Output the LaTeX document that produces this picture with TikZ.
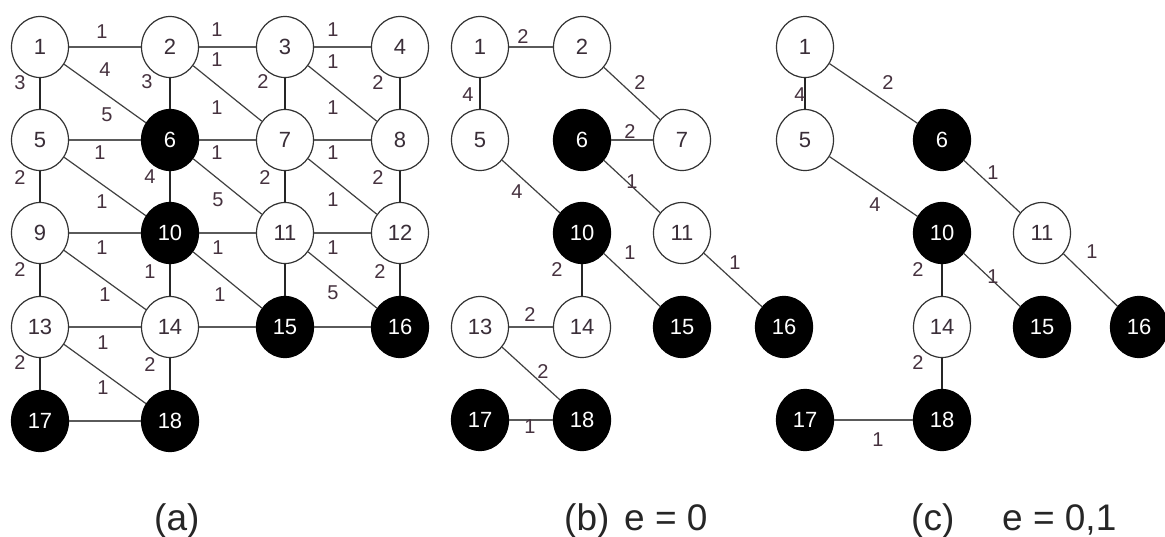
\documentclass[tikz,border=0pt]{standalone}
\usepackage{fontspec}
\setmainfont{Liberation Sans}
\usetikzlibrary{shapes.geometric}
\definecolor{edgegray}{HTML}{5A5A5A}
\definecolor{labc}{HTML}{46323F}
\definecolor{numc}{HTML}{3A2E38}
\begin{document}
\begin{tikzpicture}[x=1pt,y=-1pt,
  vtx/.style={ellipse, draw=black!80, line width=1.2pt, minimum width=57pt, minimum height=61pt, inner sep=0pt, fill=white, text=numc, font=\fontsize{22}{22}\selectfont},
  blk/.style={vtx, fill=black, draw=black, text=white},
  hedge/.style={draw=edgegray, line width=2.3pt},
  vedge/.style={draw=black!85, line width=1.5pt},
  dedge/.style={draw=black!75, line width=1.2pt},
  lab/.style={font=\fontsize{20}{20}\selectfont, text=labc, inner sep=0pt},
  captxt/.style={font=\fontsize{37}{37}\selectfont, text=black!85, inner sep=0pt, anchor=base west}]
\useasboundingbox (0,0) rectangle (1165,536);
\fill[white] (0,0) rectangle (1165,536);

% ---------------- panel (a) ----------------
\node[vtx] (a1) at (40,47) {1};
\node[vtx] (a2) at (170,47) {2};
\node[vtx] (a3) at (285,47) {3};
\node[vtx] (a4) at (400,47) {4};
\node[vtx] (a5) at (40,140) {5};
\node[blk] (a6) at (170,140) {6};
\node[vtx] (a7) at (285,140) {7};
\node[vtx] (a8) at (400,140) {8};
\node[vtx] (a9) at (40,233) {9};
\node[blk] (a10) at (170,233) {10};
\node[vtx] (a11) at (285,233) {11};
\node[vtx] (a12) at (400,233) {12};
\node[vtx] (a13) at (40,327) {13};
\node[vtx] (a14) at (170,327) {14};
\node[blk] (a15) at (285,327) {15};
\node[blk] (a16) at (400,327) {16};
\node[blk] (a17) at (40,421) {17};
\node[blk] (a18) at (170,421) {18};

\draw[hedge] (a1) -- (a2);
\draw[hedge] (a2) -- (a3);
\draw[hedge] (a3) -- (a4);
\draw[hedge] (a5) -- (a6);
\draw[hedge] (a6) -- (a7);
\draw[hedge] (a7) -- (a8);
\draw[hedge] (a9) -- (a10);
\draw[hedge] (a10) -- (a11);
\draw[hedge] (a11) -- (a12);
\draw[hedge] (a13) -- (a14);
\draw[hedge] (a14) -- (a15);
\draw[hedge] (a15) -- (a16);
\draw[hedge] (a17) -- (a18);
\draw[vedge] (a1) -- (a5);
\draw[vedge] (a2) -- (a6);
\draw[vedge] (a3) -- (a7);
\draw[vedge] (a4) -- (a8);
\draw[vedge] (a5) -- (a9);
\draw[vedge] (a6) -- (a10);
\draw[vedge] (a7) -- (a11);
\draw[vedge] (a8) -- (a12);
\draw[vedge] (a9) -- (a13);
\draw[vedge] (a10) -- (a14);
\draw[vedge] (a11) -- (a15);
\draw[vedge] (a12) -- (a16);
\draw[vedge] (a13) -- (a17);
\draw[vedge] (a14) -- (a18);
\draw[dedge] (a1) -- (a6);
\draw[dedge] (a2) -- (a7);
\draw[dedge] (a3) -- (a8);
\draw[dedge] (a5) -- (a10);
\draw[dedge] (a6) -- (a11);
\draw[dedge] (a7) -- (a12);
\draw[dedge] (a9) -- (a14);
\draw[dedge] (a10) -- (a15);
\draw[dedge] (a11) -- (a16);
\draw[dedge] (a13) -- (a18);

\node[lab] (la1) at (102,32) {1};
\node[lab] (la2) at (105,70) {4};
\node[lab] (la3) at (20,83) {3};
\node[lab] (la4) at (147,82) {3};
\node[lab] (la5) at (107,115) {5};
\node[lab] (la6) at (100,153) {1};
\node[lab] (la7) at (217,30) {1};
\node[lab] (la8) at (217,60) {1};
\node[lab] (la9) at (217,108) {1};
\node[lab] (la10) at (263,82) {2};
\node[lab] (la11) at (333,30) {1};
\node[lab] (la12) at (333,62) {1};
\node[lab] (la13) at (378,83) {2};
\node[lab] (la14) at (333,108) {1};
\node[lab] (la15) at (217,153) {1};
\node[lab] (la16) at (333,153) {1};
\node[lab] (la17) at (20,178) {2};
\node[lab] (la18) at (150,177) {4};
\node[lab] (la19) at (218,200) {5};
\node[lab] (la20) at (102,202) {1};
\node[lab] (la21) at (265,178) {2};
\node[lab] (la22) at (378,178) {2};
\node[lab] (la23) at (333,200) {1};
\node[lab] (la24) at (102,248) {1};
\node[lab] (la25) at (218,248) {1};
\node[lab] (la26) at (333,248) {1};
\node[lab] (la27) at (20,270) {2};
\node[lab] (la28) at (150,272) {1};
\node[lab] (la29) at (105,295) {1};
\node[lab] (la30) at (220,295) {1};
\node[lab] (la31) at (380,272) {2};
\node[lab] (la32) at (333,293) {5};
\node[lab] (la33) at (103,343) {1};
\node[lab] (la34) at (20,363) {2};
\node[lab] (la35) at (150,365) {2};
\node[lab] (la36) at (103,388) {1};

% ---------------- panel (b) ----------------
\node[vtx] (b1) at (480,47) {1};
\node[vtx] (b2) at (582,47) {2};
\node[vtx] (b5) at (480,140) {5};
\node[blk] (b6) at (582,140) {6};
\node[vtx] (b7) at (682,140) {7};
\node[blk] (b10) at (582,233) {10};
\node[vtx] (b11) at (682,233) {11};
\node[vtx] (b13) at (480,327) {13};
\node[vtx] (b14) at (582,327) {14};
\node[blk] (b15) at (682,327) {15};
\node[blk] (b16) at (784,327) {16};
\node[blk] (b17) at (480,420) {17};
\node[blk] (b18) at (582,420) {18};

\draw[hedge] (b1) -- (b2);
\draw[vedge] (b1) -- (b5);
\draw[dedge] (b2) -- (b7);
\draw[hedge] (b6) -- (b7);
\draw[dedge] (b6) -- (b11);
\draw[dedge] (b5) -- (b10);
\draw[vedge] (b10) -- (b14);
\draw[dedge] (b10) -- (b15);
\draw[dedge] (b11) -- (b16);
\draw[hedge] (b13) -- (b14);
\draw[dedge] (b13) -- (b18);
\draw[hedge] (b17) -- (b18);

\node[lab] (lb1) at (523,37) {2};
\node[lab] (lb2) at (468,95) {4};
\node[lab] (lb3) at (640,83) {2};
\node[lab] (lb4) at (630,132) {2};
\node[lab] (lb5) at (632,182) {1};
\node[lab] (lb6) at (517,192) {4};
\node[lab] (lb7) at (557,270) {2};
\node[lab] (lb8) at (630,253) {1};
\node[lab] (lb9) at (735,263) {1};
\node[lab] (lb10) at (530,315) {2};
\node[lab] (lb11) at (543,372) {2};
\node[lab] (lb12) at (530,427) {1};

% ---------------- panel (c) ----------------
\node[vtx] (c1) at (805,47) {1};
\node[vtx] (c5) at (805,140) {5};
\node[blk] (c6) at (942,140) {6};
\node[blk] (c10) at (942,233) {10};
\node[vtx] (c11) at (1042,233) {11};
\node[vtx] (c14) at (942,327) {14};
\node[blk] (c15) at (1042,327) {15};
\node[blk] (c16) at (1139,327) {16};
\node[blk] (c17) at (805,420) {17};
\node[blk] (c18) at (942,420) {18};

\draw[vedge] (c1) -- (c5);
\draw[dedge] (c1) -- (c6);
\draw[dedge] (c5) -- (c10);
\draw[dedge] (c6) -- (c11);
\draw[vedge] (c10) -- (c14);
\draw[dedge] (c10) -- (c15);
\draw[dedge] (c11) -- (c16);
\draw[vedge] (c14) -- (c18);
\draw[hedge] (c17) -- (c18);

\node[lab] (lc1) at (800,95) {4};
\node[lab] (lc2) at (888,83) {2};
\node[lab] (lc3) at (875,205) {4};
\node[lab] (lc4) at (993,173) {1};
\node[lab] (lc5) at (918,270) {2};
\node[lab] (lc6) at (993,277) {1};
\node[lab] (lc7) at (1092,252) {1};
\node[lab] (lc8) at (918,363) {2};
\node[lab] (lc9) at (878,440) {1};

% ---------------- captions ----------------
\node[captxt] (capa) at (154,530) {(a)};
\node[captxt] (capb) at (564,530) {(b)};
\node[captxt] (capbe) at (624,530) {e = 0};
\node[captxt] (capc) at (911,530) {(c)};
\node[captxt] (capce) at (1002,530) {e = 0,1};
\end{tikzpicture}
\end{document}
